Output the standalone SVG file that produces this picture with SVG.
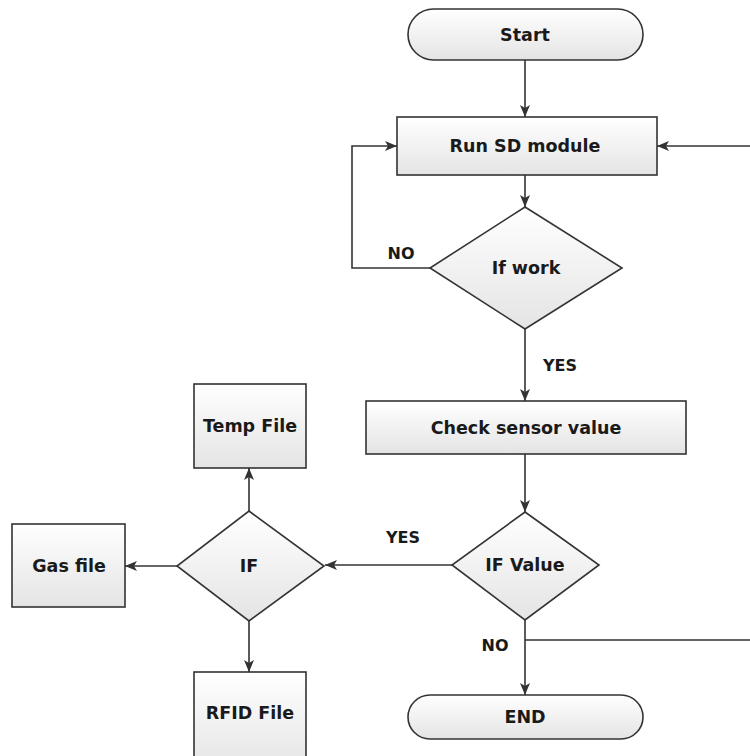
<svg xmlns="http://www.w3.org/2000/svg" width="750" height="756" viewBox="0 0 750 756">
  <defs>
    <linearGradient id="g" x1="0" y1="0" x2="0" y2="1">
      <stop offset="0" stop-color="#ffffff"/>
      <stop offset="1" stop-color="#e4e4e4"/>
    </linearGradient>
    <marker id="arr" viewBox="0 0 12 10" markerWidth="12" markerHeight="10" refX="12" refY="5" orient="auto" markerUnits="userSpaceOnUse">
      <path d="M0,0 L12,5 L0,10 L3,5 z" fill="#333"/>
    </marker>
    <style>
      .shape { fill: url(#g); stroke: #333; stroke-width: 1.6; }
      .conn { fill: none; stroke: #333; stroke-width: 1.6; }
      .arrow { marker-end: url(#arr); }
      text { font-family: "DejaVu Sans", "Liberation Sans", sans-serif; font-weight: bold; font-size: 17.5px; fill: #1a1a1a; text-anchor: middle; }
      .lbl { font-size: 16px; }
    </style>
  </defs>
  <rect width="750" height="756" fill="#ffffff"/>

  <g id="connectors">
    <path class="conn arrow" d="M525,60 V117"/>
    <path class="conn arrow" d="M525,175 V207"/>
    <path class="conn arrow" d="M430,268 H352 V146 H397"/>
    <path class="conn arrow" d="M525,329 V401"/>
    <path class="conn arrow" d="M525,454 V512"/>
    <path class="conn arrow" d="M452,565 H325"/>
    <path class="conn arrow" d="M249,511 V468"/>
    <path class="conn arrow" d="M177,566 H125"/>
    <path class="conn arrow" d="M249,621 V672"/>
    <path class="conn arrow" d="M525,620 V695"/>
    <path class="conn arrow" d="M525,640 H753 V146 H657"/>
    <text class="lbl" x="401" y="259">NO</text>
    <text class="lbl" x="560" y="371">YES</text>
    <text class="lbl" x="403" y="543">YES</text>
    <text class="lbl" x="495" y="651">NO</text>
  </g>

  <g id="start">
    <rect class="shape" x="408" y="9" width="235" height="51" rx="25.5" ry="25.5"/>
    <text x="525" y="41">Start</text>
  </g>
  <g id="run-sd">
    <rect class="shape" x="397" y="117" width="260" height="58"/>
    <text x="525" y="152">Run SD module</text>
  </g>
  <g id="if-work">
    <polygon class="shape" points="525,207 622,268 525,329 430,268"/>
    <text x="526" y="274">If work</text>
  </g>
  <g id="check-sensor">
    <rect class="shape" x="366" y="401" width="320" height="53"/>
    <text x="526" y="434">Check sensor value</text>
  </g>
  <g id="if-value">
    <polygon class="shape" points="525,512 599,565 525,620 452,565"/>
    <text x="525" y="571">IF Value</text>
  </g>
  <g id="end">
    <rect class="shape" x="408" y="695" width="235" height="44" rx="22" ry="22"/>
    <text x="525" y="723">END</text>
  </g>
  <g id="if">
    <polygon class="shape" points="249,511 324,566 249,621 177,566"/>
    <text x="249" y="572">IF</text>
  </g>
  <g id="temp-file">
    <rect class="shape" x="194" y="384" width="112" height="84"/>
    <text x="250" y="432">Temp File</text>
  </g>
  <g id="gas-file">
    <rect class="shape" x="12" y="524" width="113" height="83"/>
    <text x="69" y="572">Gas file</text>
  </g>
  <g id="rfid-file">
    <rect class="shape" x="194" y="672" width="112" height="100"/>
    <text x="250" y="719">RFID File</text>
  </g>
</svg>
